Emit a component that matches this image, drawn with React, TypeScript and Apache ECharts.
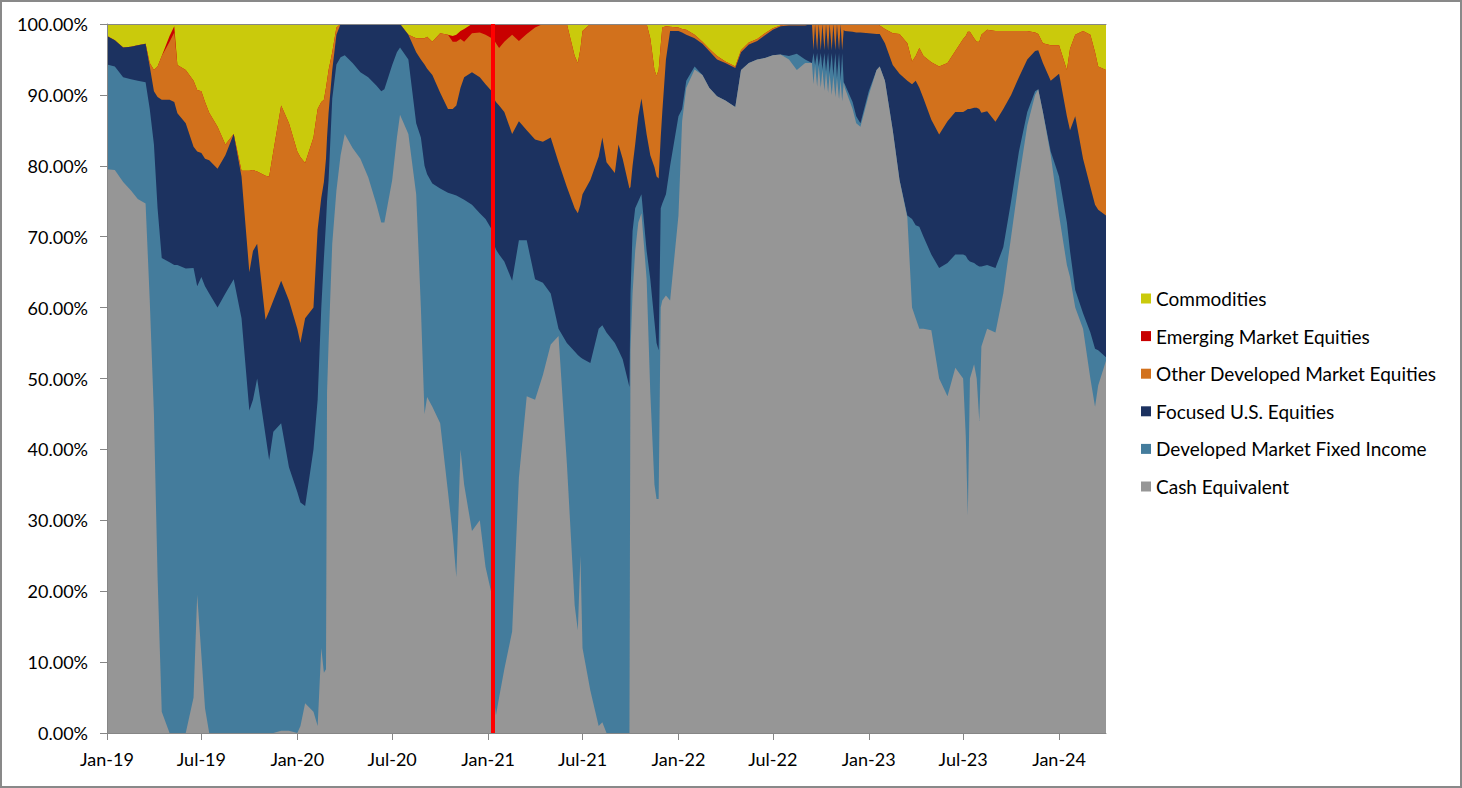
import React, { useEffect, useRef } from "react";
import * as echarts from "echarts";

// Observation dates (one row per reading taken from the chart)
const dates: string[] = [
  "2019-01-01","2019-01-16","2019-02-01","2019-02-16","2019-03-01","2019-03-16","2019-03-24","2019-04-01","2019-04-08","2019-04-16",
  "2019-05-01","2019-05-10","2019-05-16","2019-06-01","2019-06-16","2019-06-23","2019-07-01","2019-07-08","2019-07-16","2019-08-01",
  "2019-08-16","2019-09-01","2019-09-16","2019-10-01","2019-10-08","2019-10-16","2019-11-01","2019-11-08","2019-11-16","2019-12-01",
  "2019-12-16","2020-01-01","2020-01-07","2020-01-16","2020-02-01","2020-02-09","2020-02-16","2020-02-21","2020-02-25","2020-02-27",
  "2020-03-01","2020-03-08","2020-03-16","2020-03-24","2020-04-01","2020-04-16","2020-05-01","2020-05-16","2020-06-01","2020-06-10",
  "2020-06-16","2020-07-01","2020-07-10","2020-07-16","2020-08-01","2020-08-16","2020-08-25","2020-09-01","2020-09-06","2020-09-16",
  "2020-10-01","2020-10-16","2020-10-25","2020-11-01","2020-11-09","2020-11-16","2020-12-01","2020-12-16","2020-12-27","2021-01-08",
  "2021-01-12","2021-01-16","2021-01-22","2021-02-01","2021-02-16","2021-03-01","2021-03-16","2021-04-01","2021-04-16","2021-05-01",
  "2021-05-16","2021-06-01","2021-06-16","2021-06-22","2021-06-27","2021-07-01","2021-07-16","2021-08-01","2021-08-08","2021-08-16",
  "2021-09-01","2021-09-08","2021-09-16","2021-09-29","2021-10-01","2021-10-05","2021-10-10","2021-10-16","2021-10-22","2021-11-01",
  "2021-11-08","2021-11-16","2021-11-20","2021-11-24","2021-11-28","2021-12-01","2021-12-08","2021-12-16","2022-01-01","2022-01-08",
  "2022-01-16","2022-02-01","2022-02-16","2022-03-01","2022-03-16","2022-04-01","2022-04-20","2022-05-01","2022-05-16","2022-06-01",
  "2022-06-16","2022-07-01","2022-07-16","2022-08-01","2022-08-16","2022-09-01","2022-09-14","2022-09-17","2022-09-20","2022-09-24",
  "2022-09-27","2022-10-01","2022-10-04","2022-10-08","2022-10-11","2022-10-15","2022-10-18","2022-10-22","2022-10-25","2022-10-29",
  "2022-11-01","2022-11-05","2022-11-08","2022-11-11","2022-11-14","2022-11-16","2022-12-01","2022-12-08","2022-12-16","2023-01-01",
  "2023-01-16","2023-01-22","2023-02-01","2023-02-16","2023-03-01","2023-03-16","2023-03-25","2023-04-01","2023-04-08","2023-04-16",
  "2023-05-01","2023-05-16","2023-06-01","2023-06-16","2023-07-01","2023-07-06","2023-07-10","2023-07-14","2023-07-22","2023-07-27",
  "2023-08-01","2023-08-05","2023-08-16","2023-09-01","2023-09-16","2023-10-01","2023-10-16","2023-11-01","2023-11-16","2023-11-22",
  "2023-12-01","2023-12-16","2024-01-01","2024-01-16","2024-01-22","2024-02-01","2024-02-16","2024-03-01","2024-03-10","2024-03-16",
  "2024-03-31",
];

// Allocation (%) per asset class, same order as dates
const cashEquivalent: number[] = [
  79.5,79.4,77.7,76.5,75.3,74.7,61.0,45.0,22.0,3.0,
  0,0,0,0,5.0,19.5,11.0,3.5,0,0,
  0,0,0,0,0,0,0,0,0,0.3,
  0.3,0,1.0,4.2,3.0,1.0,12.0,8.5,9.0,48.0,
  55.0,69.0,76.5,81.5,84.5,82.5,81.0,78.4,74.5,72.0,
  72.0,78.0,84.0,87.2,84.5,76.0,60.0,45.0,47.4,46.0,
  43.7,34.0,28.0,22.0,40.0,35.0,28.5,30.0,23.4,19.5,
  5.0,2.5,5.0,9.0,14.3,36.0,47.5,47.0,50.5,54.8,
  56.0,38.0,18.0,14.5,25.0,12.0,6.0,1.0,1.5,0,
  0,0,0,0,54.0,62.0,68.0,72.0,73.3,64.0,
  48.0,35.0,33.0,33.0,60.0,61.0,61.7,61.0,73.0,86.3,
  91.0,93.6,92.8,91.0,89.8,89.2,88.3,93.5,94.5,95.0,
  95.2,95.6,95.7,95.0,93.5,94.5,94.5,91.5,94.2,91.2,
  94.0,91.0,93.6,90.6,93.3,90.3,93.0,90.0,92.7,89.7,
  92.4,89.4,92.1,89.1,91.8,91.0,88.0,86.0,85.5,90.0,
  93.5,94.0,92.0,85.0,78.0,72.7,60.0,58.5,57.0,57.0,
  56.8,50.0,47.5,51.5,50.0,42.0,30.7,50.0,52.0,50.0,
  44.0,54.5,57.0,56.5,62.0,70.0,78.0,85.7,90.0,90.8,
  87.6,81.5,73.0,66.0,64.3,60.0,57.0,50.0,46.0,49.0,
  52.5,
];

const developedMarketFixedIncome: number[] = [
  14.8,14.6,14.8,15.7,16.7,17.1,27.0,38.0,52.0,64.0,
  66.4,66.0,66.0,65.5,60.6,43.5,53.3,59.5,62.0,60.0,
  62.0,64.0,58.5,45.5,47.0,50.0,42.0,38.5,42.5,43.4,
  37.2,34.0,31.5,27.8,37.0,46.0,48.0,58.5,63.0,27.0,
  23.0,20.5,17.8,13.8,11.1,12.0,12.2,14.1,16.8,18.5,
  18.8,16.2,12.0,9.5,10.5,10.0,24.0,35.0,31.4,31.5,
  33.1,42.2,48.0,53.8,35.5,40.2,46.0,43.3,49.1,51.5,
  64.0,65.7,62.5,57.5,49.5,33.5,22.0,17.0,13.0,7.2,
  1.0,17.0,35.8,38.8,28.0,40.8,46.2,56.0,56.0,56.5,
  55.0,54.0,52.7,48.8,8.0,8.8,6.0,3.0,2.7,4.0,
  16.0,23.0,22.0,21.0,14.0,13.7,14.3,19.0,14.0,1.7,
  1.0,0.4,0,0,0,0,0,0,0,0,
  0,0,0,0.5,2.3,0.5,0,4.4,0,4.7,
  0,4.9,0,5.3,0,5.6,0,5.9,0,6.2,
  0,6.5,0,6.8,0,0.5,1.0,1.0,0.5,0.5,
  0,0,0,0,0,0.3,12.5,13.1,14.4,13.0,
  10.7,15.6,18.8,16.0,17.5,25.3,36.1,16.5,14.3,16.0,
  21.8,11.3,9.0,9.1,6.5,5.0,4.0,1.9,0.5,0,
  0,0.5,5.5,6.0,3.7,2.5,2.2,6.5,8.2,5.0,
  0.5,
];

const focusedUSEquities: number[] = [
  4.0,3.7,4.2,4.6,5.0,5.4,6.0,7.5,15.7,22.3,
  22.9,23.0,21.4,20.5,17.1,19.0,17.5,18.0,18.8,19.6,
  19.5,20.5,20.0,19.5,21.0,19.0,16.3,21.0,18.5,20.1,
  23.5,23.0,22.5,26.5,20.0,24.0,15.5,10.7,9.0,9.0,
  9.5,4.0,4.2,4.7,4.4,5.5,6.8,7.5,8.7,9.5,
  9.2,5.8,4.0,3.3,3.5,10.0,11.0,14.3,14.9,15.3,
  13.5,11.8,12.0,12.7,15.5,17.3,18.7,19.2,19.0,19.5,
  20.5,20.8,21.0,21.1,20.7,16.8,15.5,19.7,19.9,22.0,
  23.5,22.0,20.2,20.0,21.5,23.2,25.8,24.3,26.5,24.0,
  24.0,29.0,28.3,28.0,15.0,9.2,9.0,12.0,13.5,16.4,
  17.5,21.8,23.5,24.2,10.0,12.9,19.0,19.0,12.0,10.8,
  6.5,4.0,4.4,5.2,5.2,5.3,5.5,2.5,2.6,2.6,
  3.2,3.6,4.0,4.3,4.0,4.8,5.5,0.4,5.8,0.4,
  6.0,0.4,6.4,0.4,6.7,0.4,7.0,0.4,7.3,0.4,
  7.6,0.4,7.9,0.4,7.4,7.5,9.9,11.8,12.8,8.2,
  5.1,4.6,5.3,9.2,15.0,19.0,19.0,20.4,19.6,19.5,
  19.0,18.8,20.0,20.1,20.1,20.5,21.2,21.5,21.9,22.2,
  22.2,21.7,21.7,20.6,19.5,15.0,10.5,7.4,5.7,5.5,
  6.9,10.0,14.5,15.0,17.0,24.5,21.8,20.5,20.3,19.8,
  20.0,
];

const otherDevelopedMarketEquities: number[] = [
  0,0,0,0,0,0,0.5,3.0,4.3,6.2,
  8.2,9.8,6.8,7.5,9.3,8.7,8.7,8.0,6.7,5.9,
  1.5,0,0.8,14.3,11.4,10.2,20.3,19.0,21.0,24.7,
  25.0,25.0,26.2,21.9,24.0,17.0,13.5,11.6,10.0,8.0,
  6.0,2.5,1.0,0,0,0,0,0,0,0,
  0,0,0,0,0,2.0,3.0,3.7,4.5,4.7,
  8.4,10.5,9.5,9.0,6.9,5.0,5.5,6.3,7.0,7.5,
  8.3,8.3,8.1,9.9,14.0,11.3,13.6,15.8,16.6,16.0,
  19.5,23.0,21.5,21.2,22.0,23.0,22.0,18.7,16.0,19.5,
  21.0,17.0,19.0,23.2,23.0,20.0,17.0,13.0,10.5,15.6,
  16.5,13.7,14.2,15.3,13.0,11.9,4.7,0.6,0.5,0.5,
  0.7,0.5,0.3,0.3,0.5,0.2,0.2,0.3,0.3,0.3,
  0.3,0.2,0.1,0.2,0.2,0.2,0,3.7,0,3.7,
  0,3.7,0,3.7,0,3.7,0,3.7,0,3.7,
  0,3.7,0,3.7,0.8,1.0,1.1,1.2,1.2,1.3,
  1.4,1.2,2.0,4.5,5.6,5.3,3.2,3.5,5.6,6.0,
  8.1,9.6,8.2,8.6,10.3,10.5,10.9,10.9,9.8,9.3,
  9.5,11.0,11.5,12.8,11.0,9.0,6.5,4.0,2.6,2.3,
  2.8,5.0,4.0,6.5,11.5,11.5,18.0,21.5,21.5,20.2,
  20.5,
];

const emergingMarketEquities: number[] = [
  0,0,0,0,0,0,0,0,0,0,
  0.8,0.9,0,0,0,0,0,0,0,0,
  0,0,0,0,0,0,0,0,0,0,
  0,0,0,0,0,0,0,0,0,0,
  0,0,0,0,0,0,0,0,0,0,
  0,0,0,0,0,0,0,0,0,0,
  0,0,0.8,1.0,1.1,1.8,1.3,1.2,1.5,2.0,
  2.2,2.7,3.4,2.5,1.5,2.4,1.4,0.5,0,0,
  0,0,0,0,0,0,0,0,0,0,
  0,0,0,0,0,0,0,0,0,0,
  0,0,0,0,0,0,0,0,0,0,
  0,0,0,0,0,0,0,0,0,0,
  0,0,0,0,0,0,0,0,0,0,
  0,0,0,0,0,0,0,0,0,0,
  0,0,0,0,0,0,0,0,0,0,
  0,0,0,0,0,0,0,0,0,0,
  0,0,0,0,0,0,0,0,0,0,
  0,0,0,0,0,0,0,0,0,0,
  0,0,0,0,0,0,0,0,0,0,
  0,
];

const commodities: number[] = [
  1.7,2.3,3.3,3.2,3.0,2.8,5.5,6.5,6.0,4.5,
  1.7,0.3,5.8,6.5,8.0,9.3,9.5,11.0,12.5,14.5,
  17.0,15.5,20.7,20.7,20.6,20.8,21.4,21.5,18.0,11.5,
  14.0,18.0,18.8,19.6,16.0,12.0,11.0,10.7,9.0,8.0,
  6.5,4.0,0.5,0,0,0,0,0,0,0,
  0,0,0,0,1.5,2.0,2.0,2.0,1.8,2.5,
  1.3,1.5,1.7,1.5,1.0,0.7,0,0,0,0,
  0,0,0,0,0,0,0,0,0,0,
  0,0,4.5,5.5,3.5,1.0,0,0,0,0,
  0,0,0,0,0,0,0,0,0,0,
  2.0,6.5,7.3,6.5,3.0,0.5,0.3,0.4,0.5,0.7,
  0.8,1.5,2.5,3.5,4.5,5.3,6.0,3.7,2.6,2.1,
  1.3,0.6,0.2,0,0,0,0,0,0,0,
  0,0,0,0,0,0,0,0,0,0,
  0,0,0,0,0,0,0,0,0,0,
  0,0.2,0.7,1.3,1.4,2.7,5.3,4.5,3.4,4.5,
  5.4,6.0,5.5,3.8,2.1,1.7,1.1,1.1,2.0,2.5,
  2.5,1.5,0.8,1.0,1.0,1.0,1.0,1.0,1.2,1.4,
  2.7,3.0,3.0,6.5,3.5,1.5,1.0,1.5,4.0,6.0,
  6.5,
];

const axisTickDates: string[] = [
  "2019-01-01","2019-07-01","2020-01-01","2020-07-01","2021-01-01","2021-07-01",
  "2022-01-01","2022-07-01","2023-01-01","2023-07-01","2024-01-01",
];
const axisStart = "2019-01-01";
const axisEnd = "2024-03-31";
const markerDate = "2021-01-10";

// bottom-to-top stacking order
const seriesNames = [
  "Cash Equivalent",
  "Developed Market Fixed Income",
  "Focused U.S. Equities",
  "Other Developed Market Equities",
  "Emerging Market Equities",
  "Commodities",
];
const seriesColors = ["#969696", "#447C9C", "#1C3260", "#D2711C", "#C80000", "#CACA0C"];
const legendOrder = [
  "Commodities",
  "Emerging Market Equities",
  "Other Developed Market Equities",
  "Focused U.S. Equities",
  "Developed Market Fixed Income",
  "Cash Equivalent",
];

const MONTHS = ["Jan","Feb","Mar","Apr","May","Jun","Jul","Aug","Sep","Oct","Nov","Dec"];
const toTs = (s: string) => {
  const [y, m, d] = s.split("-").map(Number);
  return new Date(y, m - 1, d).getTime();
};

const FONT = "Lato";
const AXIS_GRAY = "#868686";

export default function App() {
  const ref = useRef<HTMLDivElement>(null);

  useEffect(() => {
    if (!ref.current) return;
    const chart = echarts.init(ref.current, undefined, { renderer: "svg" });
    const layers = [
      cashEquivalent,
      developedMarketFixedIncome,
      focusedUSEquities,
      otherDevelopedMarketEquities,
      emergingMarketEquities,
      commodities,
    ];
    // 100% stacked areas: each layer is painted from 0 up to its running total,
    // upper layers first so that lower layers paint over them.
    const running = dates.map(() => 0);
    const tops = layers.map((arr) =>
      arr.map((v, i) => {
        running[i] = Math.round((running[i] + v) * 100) / 100;
        return running[i];
      })
    );
    const tickValues = axisTickDates.map(toTs);
    const series: any[] = [];
    for (let k = layers.length - 1; k >= 0; k--) {
      const s: any = {
        name: seriesNames[k],
        type: "line",
        data: dates.map((d, i) => [toTs(d), tops[k][i]]),
        showSymbol: false,
        symbol: "none",
        smooth: false,
        silent: true,
        z: 2 + (layers.length - 1 - k),
        lineStyle: { width: 0, color: seriesColors[k] },
        itemStyle: { color: seriesColors[k] },
        areaStyle: { color: seriesColors[k], opacity: 1, origin: "start" },
        emphasis: { disabled: true },
      };
      if (k === 0) {
        s.markLine = {
          silent: true,
          z: 30,
          symbol: ["none", "none"],
          label: { show: false },
          emphasis: { disabled: true },
          lineStyle: { color: "#FF0000", width: 4, type: "solid" },
          data: [{ xAxis: toTs(markerDate) }],
        };
      }
      series.push(s);
    }

    const option: any = {
      animation: false,
      backgroundColor: "#ffffff",
      textStyle: { fontFamily: FONT },
      grid: { left: 107, top: 24, width: 999, height: 709, containLabel: false },
      legend: {
        orient: "vertical",
        left: 1136,
        top: 284,
        icon: "rect",
        itemWidth: 10,
        itemHeight: 10,
        itemGap: 18.6,
        selectedMode: false,
        data: legendOrder,
        textStyle: { fontFamily: FONT, fontSize: 19, color: "#000", lineHeight: 19 },
      },
      xAxis: [
        {
          type: "value",
          min: toTs(axisStart),
          max: toTs(axisEnd),
          z: 20,
          axisLine: { show: true, onZero: false, lineStyle: { color: AXIS_GRAY, width: 1 } },
          axisTick: { show: true, length: 7, customValues: tickValues, lineStyle: { color: AXIS_GRAY } },
          axisLabel: {
            show: true,
            customValues: tickValues,
            margin: 17,
            fontFamily: FONT,
            fontSize: 18,
            color: "#000",
            hideOverlap: false,
            formatter: (v: number) => {
              const d = new Date(v);
              return MONTHS[d.getMonth()] + "-" + String(d.getFullYear()).slice(2);
            },
          },
          splitLine: { show: false },
        },
        {
          type: "value",
          position: "top",
          min: toTs(axisStart),
          max: toTs(axisEnd),
          z: 20,
          axisLine: { show: true, onZero: false, lineStyle: { color: AXIS_GRAY, width: 1 } },
          axisTick: { show: false },
          axisLabel: { show: false },
          splitLine: { show: false },
        },
      ],
      yAxis: {
        type: "value",
        min: 0,
        max: 100,
        interval: 10,
        z: 20,
        axisLine: { show: true, onZero: false, lineStyle: { color: AXIS_GRAY, width: 1 } },
        axisTick: { show: true, length: 7, lineStyle: { color: AXIS_GRAY } },
        axisLabel: {
          margin: 19,
          fontFamily: FONT,
          fontSize: 18,
          color: "#000",
          formatter: (v: number) => v.toFixed(2) + "%",
        },
        splitLine: { show: false },
      },
      series,
    };
    chart.setOption(option);
    return () => chart.dispose();
  }, []);

  return (
    <div style={{ position: "fixed", left: 0, top: 0, width: 1462, height: 788, background: "#fff" }}>
      <div ref={ref} style={{ position: "absolute", left: 0, top: 0, width: 1462, height: 788 }} />
      <div
        style={{
          position: "absolute",
          left: 0,
          top: 0,
          width: 1462,
          height: 788,
          boxSizing: "border-box",
          border: "2px solid #898989",
          pointerEvents: "none",
        }}
      />
    </div>
  );
}
